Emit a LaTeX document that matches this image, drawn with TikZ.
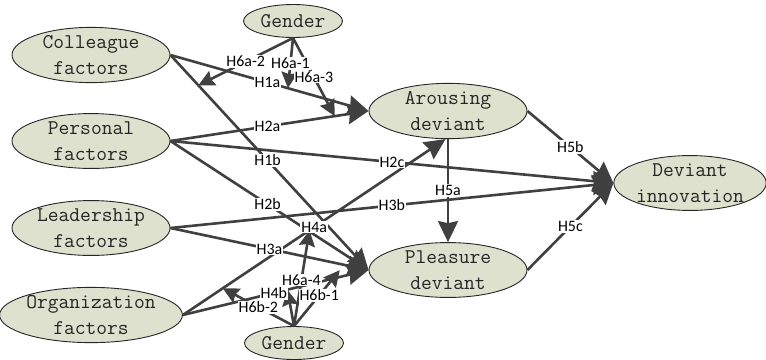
\documentclass[tikz,border=0pt]{standalone}
\usepackage{fontspec}
\newfontfamily\lblfont{Carlito}
\usetikzlibrary{shapes.geometric,arrows.meta,calc}
\definecolor{efill}{RGB}{221,225,205}
\definecolor{lcol}{RGB}{64,64,64}
\begin{document}
\begin{tikzpicture}[x=1bp,y=-1bp,
  ell/.style={ellipse, draw=black!85, line width=0.9bp, fill=efill, inner sep=0pt,
    align=center, font=\fontsize{21}{26}\selectfont\ttfamily, text=black!85},
  fac/.style={ell, minimum width=158bp, minimum height=53bp},
  gen/.style={ell, minimum width=99bp, minimum height=33bp},
  mainedge/.style={draw=lcol, line width=2.6bp, -{Stealth[length=21bp,width=20bp,inset=2bp]}},
  moder/.style={draw=lcol, line width=2.6bp, -{Stealth[length=16bp,width=16bp,inset=2bp]}},
  lbl/.style={fill=white, inner sep=1bp, font=\lblfont\fontsize{16}{16}\selectfont, text=black}
]
\useasboundingbox (0,0) rectangle (766,359);

% nodes
\node[fac] (col) at (91,55) {Colleague\\factors};
\node[fac] (per) at (91,141) {Personal\\factors};
\node[fac] (lea) at (91,228) {Leadership\\factors};
\node[fac] (org) at (91,315) {Organization\\factors};
\node[gen] (gt) at (293,21) {Gender};
\node[gen] (gb) at (294,343) {Gender};
\node[fac] (aro) at (448,111) {Arousing\\deviant};
\node[fac, minimum height=54bp] (ple) at (448,270) {Pleasure\\deviant};
\node[fac, minimum width=152bp, minimum height=52bp] (inn) at (690,183) {Deviant\\innovation};

% main paths
\path[mainedge] (col.east) -- coordinate[pos=.49] (l1a) coordinate[pos=.593] (t1a) (aro.west);
\path[mainedge] (col.east) -- coordinate[pos=.49] (l1b) coordinate[pos=.141] (t1b) (ple.west);
\path[mainedge] (per.east) -- coordinate[pos=.49] (l2a) coordinate[pos=.829] (t2a) (aro.west);
\path[mainedge] (per.east) -- coordinate[pos=.49] (l2b) (ple.west);
\path[mainedge] (per.east) -- coordinate[pos=.5] (l2c) (inn.west);
\path[mainedge] (lea.east) -- coordinate[pos=.5] (l3b) (inn.west);
\path[mainedge] (lea.east) -- coordinate[pos=.5] (l3a) coordinate[pos=.85] (t3a) (ple.west);
\path[mainedge] (org.east) -- coordinate[pos=.5] (l4a) coordinate[pos=.482] (t4a) coordinate[pos=.152] (t4a2) (aro.265);
\path[mainedge] (org.east) -- coordinate[pos=.49] (l4b) coordinate[pos=.85] (t4b) coordinate[pos=.563] (t4b2) (ple.west);
\path[mainedge] (aro.south) -- coordinate[pos=.5] (l5a) (ple.north);
\path[mainedge] (aro.east) -- coordinate[pos=.5] (l5b) (inn.west);
\path[mainedge] (ple.east) -- coordinate[pos=.5] (l5c) (inn.west);

% moderation paths
\path[moder] (gt.south) -- coordinate[pos=.5] (l6a1) (t1a);
\path[moder] (gt.south) -- coordinate[pos=.5] (l6a2) (t1b);
\path[moder] (gt.south) -- coordinate[pos=.5] (l6a3) (t2a);
\path[moder] (gb.north) -- coordinate[pos=.48] (l6a4) (t4a);
\coordinate (t6b1) at ($(t3a)!.5!(t4b)$);
\path[moder] (gb.north) -- coordinate[pos=.55] (l6b1) (t6b1);
\path[moder] (gb.north) -- (t4b2);
\path[moder] (gb.north) -- coordinate[pos=.5] (l6b2) (t4a2);

% labels
\node[lbl] (n1a) at (l1a) {H1a};
\node[lbl] (n1b) at (l1b) {H1b};
\node[lbl] (n2a) at (l2a) {H2a};
\node[lbl] (n2b) at (l2b) {H2b};
\node[lbl] (n2c) at (l2c) {H2c};
\node[lbl] (n3a) at (l3a) {H3a};
\node[lbl] (n3b) at (l3b) {H3b};
\node[lbl] (n4a) at (l4a) {H4a};
\node[lbl] (n4b) at (l4b) {H4b};
\node[lbl] (n5a) at (l5a) {H5a};
\node[lbl] (n5b) at (l5b) {H5b};
\node[lbl] (n5c) at (l5c) {H5c};
\node[lbl] (n6a1) at (l6a1) {H6a-1};
\node[lbl] (n6a2) at (l6a2) {H6a-2};
\node[lbl] (n6a3) at (l6a3) {H6a-3};
\node[lbl] (n6a4) at (l6a4) {H6a-4};
\node[lbl] (n6b1) at (l6b1) {H6b-1};
\node[lbl] (n6b2) at (l6b2) {H6b-2};
\end{tikzpicture}
\end{document}
